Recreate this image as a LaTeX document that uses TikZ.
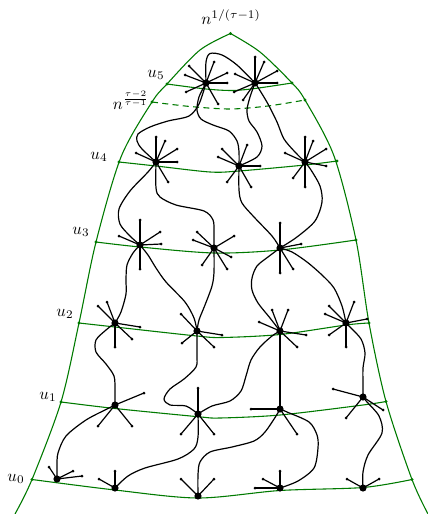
\documentclass[tikz,border=0pt]{standalone}
\usetikzlibrary{calc}
\definecolor{lvlgreen}{rgb}{0.0,0.48,0.0}
\pgfdeclarelayer{bg}
\pgfsetlayers{bg,main}
\newcommand\hubspokes[2]{\foreach \x/\y in {#2} {\draw[conn] (#1.center) -- (\x,\y); \fill (\x,\y) circle[radius=0.9pt];}}
\begin{document}
\begin{tikzpicture}[x=0.6pt,y=-0.6pt,
  lvl/.style={draw=lvlgreen, line width=0.65pt},
  conn/.style={draw=black, line width=0.72pt},
  hub/.style={circle, fill=black, inner sep=0pt, minimum size=4.3pt},
  gdot/.style={circle, fill=lvlgreen, inner sep=0pt, minimum size=2pt},
  lab/.style={inner sep=0pt}]
\useasboundingbox (0,0) rectangle (428,514);
% green anchor dots
\node[gdot] (top) at (230.5,33.5) {};
\node[gdot] (L5) at (167,84) {};   \node[gdot] (R5) at (292,83) {};
\node[gdot] (Ld) at (152,102) {};  \node[gdot] (Rd) at (305,100) {};
\node[gdot] (L4) at (119,162) {};  \node[gdot] (R4) at (337,161) {};
\node[gdot] (L3) at (96,242) {};   \node[gdot] (R3) at (356,240) {};
\node[gdot] (L2) at (79,323) {};   \node[gdot] (R2) at (369,323) {};
\node[gdot] (L1) at (61,402) {};   \node[gdot] (R1) at (386,401.5) {};
\node[gdot] (L0) at (32,479.5) {}; \node[gdot] (R0) at (412,479.5) {};
\coordinate (BL) at (15,514);
\coordinate (BR) at (428,514);
\begin{pgfonlayer}{bg}
\draw[lvl] plot[smooth] coordinates {(top.center) (200,50) (L5.center) (Ld.center) (121,157) (L3.center) (L2.center) (L1.center) (L0.center) (BL)};
\draw[lvl] plot[smooth] coordinates {(top.center) (260,52) (R5.center) (Rd.center) (334,156) (R3.center) (R2.center) (R1.center) (R0.center) (BR)};
\draw[lvl] plot[smooth] coordinates {(L5.center) (206,89) (232,90.5) (255,88.5) (R5.center)};
\draw[lvl, dash pattern=on 3.6pt off 2.6pt] plot[smooth] coordinates {(Ld.center) (190,106.5) (230,109) (268,106) (Rd.center)};
\draw[lvl] plot[smooth] coordinates {(L4.center) (156,166) (210,172) (239,171) (305,165) (R4.center)};
\draw[lvl] plot[smooth] coordinates {(L3.center) (140,247) (214,253) (280,250) (R3.center)};
\draw[lvl] plot[smooth] coordinates {(L2.center) (115,327) (197,336) (222,337.5) (280,334.5) (346,325) (R2.center)};
\draw[lvl] plot[smooth] coordinates {(L1.center) (115,408.5) (198,416.7) (220,418) (280,415) (363,405) (R1.center)};
\draw[lvl] plot[smooth] coordinates {(L0.center) (115,490) (198,498) (280,490.5) (363,487.5) (R0.center)};
\end{pgfonlayer}
% hubs
\node[hub] (H5a) at (206,83) {};  \node[hub] (H5b) at (255,83) {};
\node[hub] (H4a) at (156,162) {}; \node[hub] (H4b) at (239,166) {}; \node[hub] (H4c) at (305,162) {};
\node[hub] (H3a) at (140,245) {}; \node[hub] (H3b) at (214,248) {}; \node[hub] (H3c) at (280,248) {};
\node[hub] (H2a) at (115,323) {}; \node[hub] (H2b) at (197,331) {}; \node[hub] (H2c) at (280,331) {}; \node[hub] (H2d) at (346,323) {};
\node[hub] (H1a) at (115,405) {}; \node[hub] (H1b) at (198,414) {}; \node[hub] (H1c) at (280,409) {}; \node[hub] (H1d) at (363,397) {};
\node[hub] (H0a) at (57,479) {};  \node[hub] (H0b) at (115,488) {}; \node[hub] (H0c) at (198,496) {}; \node[hub] (H0d) at (280,488) {}; \node[hub] (H0e) at (363,488) {};
% spokes
\hubspokes{H5a}{189/66, 185/75, 186/92, 214/62, 227/73, 227/83, 218/104}
\hubspokes{H5b}{255/57, 264/62, 277/71, 277/83, 235/74, 234/92, 243/100}
\hubspokes{H4a}{156/137, 165/141, 177/149, 177/162, 136/153, 168/182}
\hubspokes{H4b}{247/145, 222/149, 218/157, 260/166, 227/182, 251/187}
\hubspokes{H4c}{305/137, 313/141, 326/149, 326/166, 285/153, 293/178, 305/187}
\hubspokes{H3a}{140/220, 160/232, 161/244, 119/236, 140/269}
\hubspokes{H3b}{197/232, 193/240, 234/236, 231/257, 202/265, 227/269}
\hubspokes{H3c}{280/223, 301/244, 293/269, 280/273}
\hubspokes{H2a}{98/306, 107/302, 140/327, 132/339, 115/347}
\hubspokes{H2b}{181/314, 222/335, 214/347, 182/343}
\hubspokes{H2c}{272/310, 288/310, 259/322, 306/335, 297/347}
\hubspokes{H2d}{329/306, 325/314, 354/302, 367/319, 329/335, 346/347}
\hubspokes{H1a}{144/393, 98/426, 132/426}
\hubspokes{H1b}{198/388, 181/434, 214/434}
\hubspokes{H1c}{251/409, 297/434}
\hubspokes{H1d}{333/389, 346/418, 383/410}
\hubspokes{H0a}{49/467, 73/471, 82/476}
\hubspokes{H0b}{99/479, 115/471}
\hubspokes{H0c}{181/479, 214/479}
\hubspokes{H0d}{255/488, 263/479, 280/471}
\hubspokes{H0e}{347/479, 379/479}
% connectors
\draw[conn] plot[smooth] coordinates {(H5a.center) (206,62) (210,53.5) (222,55) (237,65) (H5b.center)};
\draw[conn] plot[smooth] coordinates {(H5a.center) (199,104) (189,116) (168,121) (150,127) (138,134) (137,141) (142,149) (H4a.center)};
\draw[conn] plot[smooth] coordinates {(H5a.center) (199,97) (197,110) (201,119) (213,125) (229,131) (237,141) (239,152) (H4b.center)};
\draw[conn] plot[smooth] coordinates {(H5b.center) (250,97) (247,110) (249,121) (257,132) (262,146) (257,157) (H4b.center)};
\draw[conn] plot[smooth] coordinates {(H5b.center) (259,89) (268,104) (277,122) (284,139) (295,152) (H4c.center)};
\draw[conn] plot[smooth] coordinates {(H4a.center) (156,188) (160,197) (176,205) (204,211) (213,220) (214,232) (H3b.center)};
\draw[conn] plot[smooth] coordinates {(H4a.center) (148,172) (130,191) (119,209) (120,224) (130,236) (H3a.center)};
\draw[conn] plot[smooth] coordinates {(H4b.center) (239,190) (242,203) (254,217) (272,236) (H3c.center)};
\draw[conn] plot[smooth] coordinates {(H4c.center) (311,170) (320,186) (322,202) (315,221) (297,237) (H3c.center)};
\draw[conn] plot[smooth] coordinates {(H3a.center) (133,253) (127,265) (126,280) (126,294) (121,312) (H2a.center)};
\draw[conn] plot[smooth] coordinates {(H3a.center) (148,255) (156,268) (166,282) (185,302) (194,318) (H2b.center)};
\draw[conn] plot[smooth] coordinates {(H3b.center) (214,272) (212,286) (205,305) (199,320) (H2b.center)};
\draw[conn] plot[smooth] coordinates {(H3c.center) (268,257) (257,266) (252,278) (252,290) (258,303) (270,318) (H2c.center)};
\draw[conn] plot[smooth] coordinates {(H3c.center) (292,252) (307,262) (322,275) (334,288) (342,306) (H2d.center)};
\draw[conn] plot[smooth] coordinates {(H2a.center) (106,330) (96,340) (96,352) (106,364) (114,376) (115,390) (H1a.center)};
\draw[conn] plot[smooth] coordinates {(H2b.center) (197,355) (196,367) (184,379) (170,389) (164,399) (170,405) (186,406) (H1b.center)};
\draw[conn] plot[smooth] coordinates {(H2c.center) (272,336) (260,347) (251,360) (246,376) (241,391) (230,401) (212,406) (H1b.center)};
\draw[conn] (H2c.center) -- (H1c.center);
\draw[conn] plot[smooth] coordinates {(H2d.center) (350,327) (361,339) (365,353) (363,368) (363,385) (H1d.center)};
\draw[conn] plot[smooth] coordinates {(H1a.center) (107,409) (86,420) (66,436) (58,453) (57,466) (H0a.center)};
\draw[conn] plot[smooth] coordinates {(H1b.center) (198,437) (194,449) (178,459) (145,468) (128,476) (H0b.center)};
\draw[conn] plot[smooth] coordinates {(H1c.center) (276,416) (265,432) (254,441) (232,447) (210,452) (200,462) (198,475) (H0c.center)};
\draw[conn] plot[smooth] coordinates {(H1c.center) (287,412) (309,422) (317,435) (318,448) (314,468) (298,481) (H0d.center)};
\draw[conn] plot[smooth] coordinates {(H1d.center) (367,402) (379,416) (382,433) (368,455) (363,472) (H0e.center)};
% labels
\node[lab] (ltop) at (231,17) {$n^{1/(\tau-1)}$};
\node[lab] (lu5) at (156,75) {$u_5$};
\node[lab] (lnd) at (131,100) {$n^{\frac{\tau-2}{\tau-1}}$};
\node[lab] (lu4) at (99,157) {$u_4$};
\node[lab] (lu3) at (81,232) {$u_3$};
\node[lab] (lu2) at (65,314) {$u_2$};
\node[lab] (lu1) at (48,397) {$u_1$};
\node[lab] (lu0) at (16,479) {$u_0$};
\end{tikzpicture}
\end{document}
